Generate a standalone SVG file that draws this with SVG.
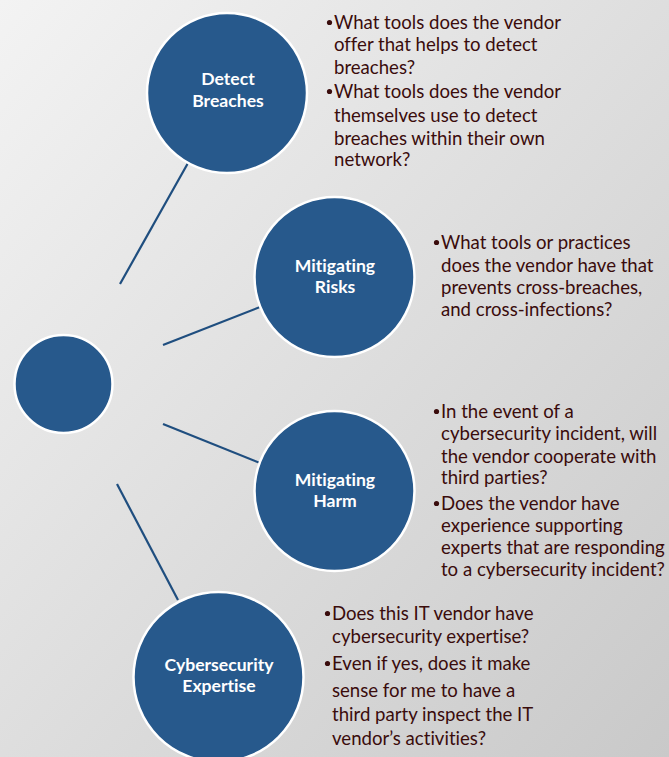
<svg xmlns="http://www.w3.org/2000/svg" width="669" height="757" viewBox="0 0 669 757">
<defs>
<linearGradient id="bg" x1="0" y1="0" x2="1" y2="1">
<stop offset="0" stop-color="#F3F3F3"/>
<stop offset="0.5" stop-color="#DEDEDE"/>
<stop offset="1" stop-color="#C9C9C9"/>
</linearGradient>
<style>
.node{fill:#27598C;stroke:#FFFFFF;stroke-width:2.5}
.lbl{font-family:Lato,"Open Sans","Liberation Sans",sans-serif;font-weight:bold;font-size:17.6px;fill:#FFFFFF;text-anchor:middle;font-variant-ligatures:none}
.conn line{stroke:#1F4E7F;stroke-width:2.2;stroke-linecap:butt}
.txt{font-family:Lato,"Open Sans","Liberation Sans",sans-serif;font-size:18.6px;fill:#3A0C0C;font-variant-ligatures:none}
.bul{fill:#3A0C0C}
</style>
</defs>
<rect width="669" height="757" fill="url(#bg)"/>
<g id="connectors" class="conn">
<line x1="120" y1="284" x2="188" y2="163"/>
<line x1="163" y1="345" x2="260" y2="307"/>
<line x1="163" y1="424" x2="260" y2="463"/>
<line x1="117" y1="484" x2="178" y2="600"/>
</g>
<g id="hub"><circle class="node" cx="63.5" cy="384" r="49"/></g>
<g id="detect-breaches">
<circle class="node" cx="227" cy="93" r="80"/>
<text class="lbl" x="228" y="85">Detect</text>
<text class="lbl" x="228" y="107">Breaches</text>
</g>
<g id="mitigating-risks">
<circle class="node" cx="334.5" cy="277" r="80"/>
<text class="lbl" x="335" y="272">Mitigating</text>
<text class="lbl" x="335" y="293">Risks</text>
</g>
<g id="mitigating-harm">
<circle class="node" cx="334.5" cy="491" r="80"/>
<text class="lbl" x="335" y="486">Mitigating</text>
<text class="lbl" x="335" y="507">Harm</text>
</g>
<g id="cybersecurity-expertise">
<circle class="node" cx="218.5" cy="677" r="85"/>
<text class="lbl" x="219" y="671">Cybersecurity</text>
<text class="lbl" x="219" y="692">Expertise</text>
</g>
<g id="text-detect" class="txt">
<circle class="bul" cx="329.5" cy="22.5" r="2.6"/>
<text x="334" y="29">What tools does the vendor</text>
<text x="334" y="51">offer that helps to detect</text>
<text x="334" y="74">breaches?</text>
<circle class="bul" cx="329.5" cy="91.5" r="2.6"/>
<text x="334" y="98">What tools does the vendor</text>
<text x="334" y="122">themselves use to detect</text>
<text x="334" y="145">breaches within their own</text>
<text x="334" y="166">network?</text>
</g>
<g id="text-risks" class="txt">
<circle class="bul" cx="436.5" cy="242.5" r="2.6"/>
<text x="441" y="249">What tools or practices</text>
<text x="441" y="272">does the vendor have that</text>
<text x="441" y="294">prevents cross-breaches,</text>
<text x="441" y="316">and cross-infections?</text>
</g>
<g id="text-harm" class="txt">
<circle class="bul" cx="436.5" cy="411.5" r="2.6"/>
<text x="441" y="418">In the event of a</text>
<text x="441" y="440">cybersecurity incident, will</text>
<text x="441" y="463">the vendor cooperate with</text>
<text x="441" y="484">third parties?</text>
<circle class="bul" cx="436.5" cy="503.5" r="2.6"/>
<text x="441" y="510">Does the vendor have</text>
<text x="441" y="532">experience supporting</text>
<text x="441" y="554">experts that are responding</text>
<text x="441" y="576">to a cybersecurity incident?</text>
</g>
<g id="text-expertise" class="txt">
<circle class="bul" cx="327.5" cy="613.5" r="2.6"/>
<text x="332" y="620">Does this IT vendor have</text>
<text x="332" y="643">cybersecurity expertise?</text>
<circle class="bul" cx="327.5" cy="663.5" r="2.6"/>
<text x="332" y="670">Even if yes, does it make</text>
<text x="332" y="697">sense for me to have a</text>
<text x="332" y="721">third party inspect the IT</text>
<text x="332" y="745">vendor’s activities?</text>
</g>
</svg>
